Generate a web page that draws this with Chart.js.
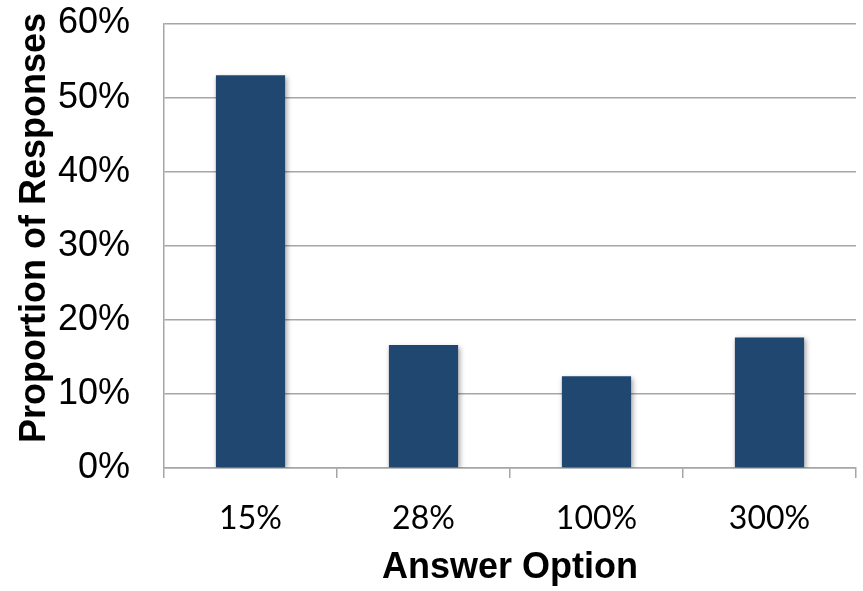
<!DOCTYPE html>
<html>
<head>
<meta charset="utf-8">
<title>Proportion of Responses</title>
<script src="https://cdn.jsdelivr.net/npm/chart.js@4/dist/chart.umd.min.js"></script>
<style>
  html, body { margin: 0; padding: 0; background: #fff; }
  #wrap { width: 863px; height: 591px; }
</style>
</head>
<body>
<div id="wrap"><canvas id="chart" width="863" height="591"></canvas></div>
<script>
// data
const categories = ['15%', '28%', '100%', '300%'];
const responses = [53.0, 16.6, 12.4, 17.6];
const yTicks = [0, 10, 20, 30, 40, 50, 60];

const BAR_COLOR = '#1F4770';
const GRID_COLOR = '#a6a6a6';

// soft drop shadow under the bars
const barShadow = {
  id: 'barShadow',
  beforeDatasetsDraw(chart) {
    const { ctx } = chart;
    ctx.save();
    ctx.shadowColor = 'rgba(0,0,0,0.35)';
    ctx.shadowBlur = 5;
    ctx.shadowOffsetX = 1.5;
    ctx.shadowOffsetY = 1.5;
  },
  afterDatasetsDraw(chart) {
    chart.ctx.restore();
  }
};

// y title sits a bit above the plot centre in the reference
const yTitle = {
  id: 'yTitle',
  afterDraw(chart) {
    const { ctx } = chart;
    ctx.save();
    ctx.translate(35.5, 228);
    ctx.rotate(-Math.PI / 2);
    ctx.font = "bold 36px 'Liberation Sans', Arial, sans-serif";
    ctx.fillStyle = '#000';
    ctx.textAlign = 'center';
    ctx.textBaseline = 'middle';
    ctx.fillText('Proportion of Responses', 0, 0);
    ctx.restore();
  }
};

new Chart(document.getElementById('chart'), {
  type: 'bar',
  data: {
    labels: categories,
    datasets: [{
      data: responses,
      backgroundColor: BAR_COLOR,
      borderWidth: 0,
      categoryPercentage: 1,
      barPercentage: 0.4,
    }],
  },
  options: {
    responsive: false,
    animation: false,
    layout: { padding: { top: 23.5, right: 7, bottom: 0, left: 0 } },
    plugins: { legend: { display: false }, tooltip: { enabled: false } },
    scales: {
      x: {
        grid: { offset: true, drawOnChartArea: false, drawTicks: true, tickLength: 10, color: GRID_COLOR, lineWidth: 1.5 },
        border: { display: true, color: GRID_COLOR, width: 1.5 },
        ticks: { color: '#000', padding: 21, font: { family: "Lato, 'Open Sans', sans-serif", size: 32 } },
        title: {
          display: true, text: 'Answer Option', color: '#000',
          font: { family: "'Liberation Sans', Arial, sans-serif", size: 36, weight: 'bold' },
          padding: { top: 0, bottom: 1 },
        },
        afterFit(scale) {
          scale.height = 123;
          scale.paddingLeft = 0;
          scale.paddingRight = 0;
        },
      },
      y: {
        min: 0, max: 60,
        afterBuildTicks(scale) { scale.ticks = yTicks.map(v => ({ value: v })); },
        grid: { drawTicks: false, color: GRID_COLOR, lineWidth: 1.5 },
        border: { display: true, color: GRID_COLOR, width: 1.5 },
        ticks: {
          color: '#000', padding: 34,
          font: { family: "'Liberation Sans', Arial, sans-serif", size: 36 },
          callback: v => v + '%',
        },
        afterFit(scale) {
          scale.width = 164;
          scale.paddingTop = 0;
          scale.paddingBottom = 0;
        },
      },
    },
  },
  plugins: [barShadow, yTitle],
});
</script>
</body>
</html>
